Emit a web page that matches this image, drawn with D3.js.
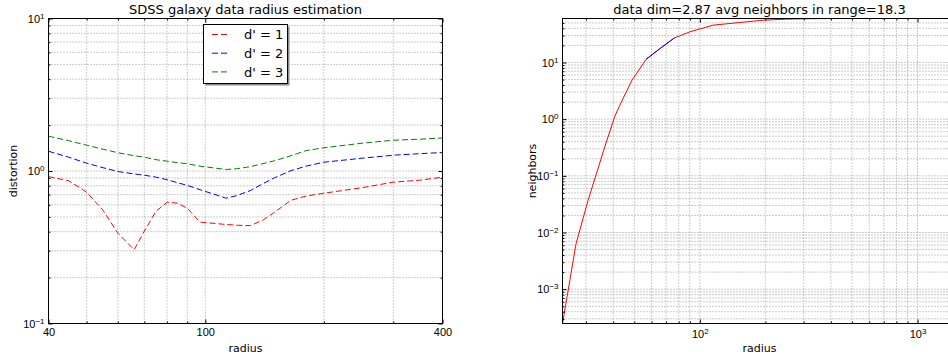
<!DOCTYPE html>
<html>
<head>
<meta charset="utf-8">
<script src="https://cdn.jsdelivr.net/npm/d3@7"></script>
<style>
  body { margin: 0; background: #fff; }
  svg { display: block; font-family: "DejaVu Sans", sans-serif; }
</style>
</head>
<body>
<script>
// left panel: distortion vs radius
const distRadius = [40, 45, 50, 55, 60, 66, 70, 75, 80, 85, 90, 97, 113, 120, 130, 140, 150, 165, 180, 200, 250, 300, 350, 400];
const distD1 = [0.918, 0.864, 0.726, 0.553, 0.391, 0.305, 0.403, 0.545, 0.624, 0.615, 0.570, 0.462, 0.446, 0.441, 0.438, 0.476, 0.537, 0.643, 0.684, 0.715, 0.777, 0.845, 0.870, 0.911];
const distD2 = [1.348, 1.232, 1.125, 1.051, 0.992, 0.956, 0.939, 0.911, 0.877, 0.838, 0.805, 0.754, 0.663, 0.689, 0.743, 0.825, 0.904, 1.005, 1.075, 1.142, 1.213, 1.269, 1.299, 1.322];
const distD3 = [1.691, 1.580, 1.476, 1.390, 1.318, 1.260, 1.232, 1.186, 1.160, 1.134, 1.117, 1.075, 1.023, 1.035, 1.067, 1.117, 1.168, 1.260, 1.359, 1.421, 1.521, 1.592, 1.616, 1.648];
const legendLabels = ["d' = 1", "d' = 2", "d' = 3"];
const distXTicks = [40, 100, 400];
const distYTicks = [0.1, 1, 10];

// right panel: neighbors vs radius
const nbrRadius = [23.4, 27.0, 30.6, 33.5, 36.6, 40.7, 44.5, 48.8, 56.7, 66, 76.5, 90, 115, 150, 195, 250, 310, 400, 600, 1000, 1510];
const nbrCount = [2.48e-4, 6.3e-3, 0.036, 0.109, 0.325, 1.13, 2.36, 4.87, 11.4, 17.9, 27.2, 34.7, 45.5, 50.4, 55.7, 58.1, 59.2, 59.6, 59.7, 59.7, 59.7];
const inRangeRadius = [56.7, 66, 76.5];
const inRangeCount = [11.4, 17.9, 27.2];
const nbrXTicks = [100, 1000];
const nbrYTicks = [0.001, 0.01, 0.1, 1, 10];

const W = 948, H = 360;
const plotTop = 18.5, plotBottom = 323.5;

const svg = d3.select("body").append("svg")
    .attr("width", W)
    .attr("height", H);

function supLabel(text, d) {
    const e = Math.round(Math.log10(d));
    text.text(null);
    text.append("tspan").text("10");
    text.append("tspan")
        .attr("dy", "-0.5em")
        .style("font-size", "8px")
        .text(e < 0 ? "\u2212" + (-e) : e);
}

function panel(opts) {
    const x = d3.scaleLog().domain(opts.xDomain).range([opts.x0, opts.x1]);
    const y = d3.scaleLog().domain(opts.yDomain).range([plotBottom, plotTop]);
    const g = svg.append("g");

    const clipId = "clip" + opts.id;
    svg.append("clipPath").attr("id", clipId)
        .append("rect")
        .attr("x", opts.x0).attr("y", plotTop)
        .attr("width", opts.x1 - opts.x0).attr("height", plotBottom - plotTop);

    // dotted grid on every major and minor tick
    const xGrid = x.ticks().filter(v => x(v) > opts.x0 + 1 && x(v) < opts.x1 - 1);
    const yGrid = y.ticks().filter(v => y(v) > plotTop + 1 && y(v) < plotBottom - 1);
    g.selectAll(".gx").data(xGrid).enter().append("line")
        .attr("x1", d => x(d)).attr("x2", d => x(d))
        .attr("y1", plotTop).attr("y2", plotBottom)
        .attr("stroke", "#999").attr("stroke-dasharray", "1,2");
    g.selectAll(".gy").data(yGrid).enter().append("line")
        .attr("x1", opts.x0).attr("x2", opts.x1)
        .attr("y1", d => y(d)).attr("y2", d => y(d))
        .attr("stroke", "#999").attr("stroke-dasharray", "1,2");

    // series
    const line = d3.line().x(d => x(d[0])).y(d => y(d[1]));
    const plot = g.append("g").attr("clip-path", `url(#${clipId})`);
    opts.series.forEach(s => {
        plot.append("path")
            .datum(d3.zip(s.xs, s.ys))
            .attr("d", line)
            .attr("fill", "none")
            .attr("stroke", s.color)
            .attr("stroke-width", 1)
            .attr("stroke-dasharray", s.dash || null);
    });

    // ticks, inward on all four sides
    const xMinor = x.ticks().filter(v => !opts.xTicks.includes(v));
    const yMinor = y.ticks().filter(v => !opts.yTicks.includes(v));

    const xb = g.append("g").attr("transform", `translate(0,${plotBottom})`)
        .call(d3.axisBottom(x).tickValues(opts.xTicks).tickSize(-4).tickPadding(opts.xPad).tickFormat(d => d));
    g.append("g").attr("transform", `translate(0,${plotBottom})`)
        .call(d3.axisBottom(x).tickValues(xMinor).tickSize(-2).tickFormat(""));
    g.append("g").attr("transform", `translate(0,${plotTop})`)
        .call(d3.axisTop(x).tickValues(opts.xTicks).tickSize(-4).tickFormat(""));
    g.append("g").attr("transform", `translate(0,${plotTop})`)
        .call(d3.axisTop(x).tickValues(xMinor).tickSize(-2).tickFormat(""));

    const yl = g.append("g").attr("transform", `translate(${opts.x0},0)`)
        .call(d3.axisLeft(y).tickValues(opts.yTicks).tickSize(-4).tickPadding(4).tickFormat(d => d));
    g.append("g").attr("transform", `translate(${opts.x0},0)`)
        .call(d3.axisLeft(y).tickValues(yMinor).tickSize(-2).tickFormat(""));
    g.append("g").attr("transform", `translate(${opts.x1},0)`)
        .call(d3.axisRight(y).tickValues(opts.yTicks).tickSize(-4).tickFormat(""));
    g.append("g").attr("transform", `translate(${opts.x1},0)`)
        .call(d3.axisRight(y).tickValues(yMinor).tickSize(-2).tickFormat(""));

    g.selectAll(".domain").remove();
    g.selectAll(".tick text").attr("fill", "#000").style("font-size", "11px");
    yl.selectAll(".tick text").each(function (d) { supLabel(d3.select(this), d); });
    if (opts.xSup) xb.selectAll(".tick text").each(function (d) { supLabel(d3.select(this), d); });

    // frame
    g.append("rect")
        .attr("x", opts.x0).attr("y", plotTop)
        .attr("width", opts.x1 - opts.x0).attr("height", plotBottom - plotTop)
        .attr("fill", "none").attr("stroke", "#000");

    // texts
    const cx = (opts.x0 + opts.x1) / 2;
    g.append("text").attr("x", cx).attr("y", 13.5)
        .attr("text-anchor", "middle").style("font-size", "13px")
        .text(opts.title);
    g.append("text").attr("x", cx).attr("y", 352)
        .attr("text-anchor", "middle").style("font-size", "11px")
        .text(opts.xLabel);
    g.append("text")
        .attr("transform", `translate(${opts.yLabelX},${(plotTop + plotBottom) / 2}) rotate(-90)`)
        .attr("text-anchor", "middle").style("font-size", "11px")
        .text(opts.yLabel);

    return g;
}

panel({
    id: "L",
    x0: 48.5, x1: 442.5,
    xDomain: [40, 400], yDomain: [0.1, 10],
    xTicks: distXTicks, yTicks: distYTicks,
    xPad: 5, xSup: false,
    title: "SDSS galaxy data radius estimation",
    xLabel: "radius", yLabel: "distortion", yLabelX: 16.5,
    series: [
        { xs: distRadius, ys: distD1, color: "#ff0000", dash: "6,3" },
        { xs: distRadius, ys: distD2, color: "#0000ff", dash: "6,3" },
        { xs: distRadius, ys: distD3, color: "#008000", dash: "6,3" }
    ]
});

panel({
    id: "R",
    x0: 562.5, x1: 956.5,
    xDomain: d3.extent(nbrRadius), yDomain: d3.extent(nbrCount),
    xTicks: nbrXTicks, yTicks: nbrYTicks,
    xPad: 7, xSup: true,
    title: "data dim=2.87 avg neighbors in range=18.3",
    xLabel: "radius", yLabel: "neighbors", yLabelX: 535.5,
    series: [
        { xs: nbrRadius, ys: nbrCount, color: "#ff0000" },
        { xs: inRangeRadius, ys: inRangeCount, color: "#0000ff" }
    ]
});

// legend
const legColors = ["#ff0000", "#0000ff", "#008000"];
const leg = svg.append("g").attr("transform", "translate(203.5,24.5)");
leg.append("rect").attr("x", 2).attr("y", 2).attr("width", 84).attr("height", 59).attr("fill", "#8c8c8c");
leg.append("rect").attr("width", 84).attr("height", 59).attr("fill", "#fff").attr("stroke", "#000");
const items = leg.selectAll(".item").data(legendLabels).enter().append("g")
    .attr("transform", (d, i) => `translate(0,${10 + i * 18.7})`);
items.append("line")
    .attr("x1", 8.5).attr("x2", 25.5)
    .attr("stroke", (d, i) => legColors[i])
    .attr("stroke-dasharray", "6,3");
items.append("text")
    .attr("x", 40.5).attr("y", 4.8)
    .style("font-size", "13px")
    .text(d => d);
</script>
</body>
</html>
